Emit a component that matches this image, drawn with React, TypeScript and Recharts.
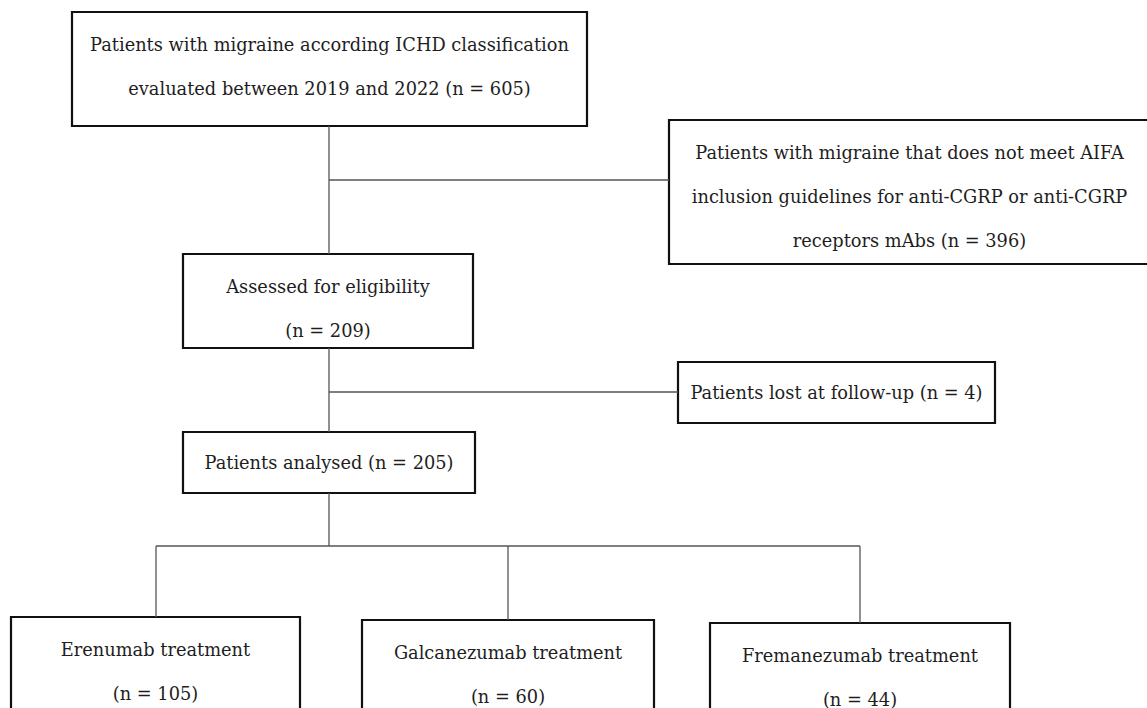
import React from 'react';
import {
  ComposedChart,
  XAxis,
  YAxis,
  Scatter,
  ReferenceArea,
  ReferenceLine,
} from 'recharts';

// flow diagram drawn on a 1147 x 708 grid (y grows downwards)
const W = 1147;
const H = 708;

const nodeText: string[][] = [
  ['Patients with migraine according ICHD classification', 'evaluated between 2019 and 2022 (n = 605)'],
  ['Patients with migraine that does not meet AIFA', 'inclusion guidelines for anti-CGRP or anti-CGRP', 'receptors mAbs (n = 396)'],
  ['Assessed for eligibility', '(n = 209)'],
  ['Patients lost at follow-up (n = 4)'],
  ['Patients analysed (n = 205)'],
  ['Erenumab treatment', '(n = 105)'],
  ['Galcanezumab treatment', '(n = 60)'],
  ['Fremanezumab treatment', '(n = 44)'],
];

// box extents in grid units: [left, right, top, bottom]
const nodeBoxes: [number, number, number, number][] = [
  [72, 587, 12, 126],
  [669, 1150, 120, 264],
  [183, 473, 254, 348],
  [678, 995, 362, 423],
  [183, 475, 432, 493],
  [11, 300, 617, 720],
  [362, 654, 620, 720],
  [710, 1010, 623, 720],
];

// connectors: [x1, y1, x2, y2]
const links: [number, number, number, number][] = [
  [329, 126, 329, 254],
  [329, 180, 669, 180],
  [329, 348, 329, 432],
  [329, 392, 678, 392],
  [329, 493, 329, 546],
  [156, 546, 860, 546],
  [156, 546, 156, 617],
  [508, 546, 508, 620],
  [860, 546, 860, 623],
];

const LINE_GAP = 44;

const textRows = nodeText.flatMap((lines, i) => {
  const [l, r, t, b] = nodeBoxes[i];
  const cx = (l + r) / 2;
  const first = lines.length === 1 ? (t + b) / 2 : t + 32;
  return lines.map((text, j) => ({ x: cx, y: first + j * LINE_GAP, text }));
});

const TextMark = (props: any) => {
  const { cx, cy, payload } = props;
  return (
    <text
      x={cx}
      y={cy}
      textAnchor="middle"
      dominantBaseline="central"
      fontFamily="'DejaVu Serif', serif"
      fontSize={17.8}
      fill="#1e1e1e"
    >
      {payload.text}
    </text>
  );
};

const App: React.FC = () => {
  return (
    <div style={{ position: 'absolute', left: 0, top: 0, width: W, height: H, background: '#fff' }}>
      <ComposedChart width={W} height={H} margin={{ top: 0, right: 0, bottom: 0, left: 0 }}>
        <XAxis type="number" dataKey="x" domain={[0, W]} hide allowDataOverflow />
        <YAxis type="number" dataKey="y" domain={[0, H]} reversed hide allowDataOverflow />
        {links.map(([x1, y1, x2, y2], i) => (
          <ReferenceLine
            key={`l${i}`}
            segment={[{ x: x1, y: y1 }, { x: x2, y: y2 }]}
            stroke="#555"
            strokeWidth={1.3}
            ifOverflow="visible"
          />
        ))}
        {nodeBoxes.map(([l, r, t, b], i) => (
          <ReferenceArea
            key={`b${i}`}
            x1={l}
            x2={r}
            y1={t}
            y2={b}
            fill="#fff"
            fillOpacity={1}
            stroke="#111"
            strokeWidth={2.2}
            ifOverflow="hidden"
          />
        ))}
        <Scatter data={textRows} shape={<TextMark />} isAnimationActive={false} />
      </ComposedChart>
    </div>
  );
};

export default App;
